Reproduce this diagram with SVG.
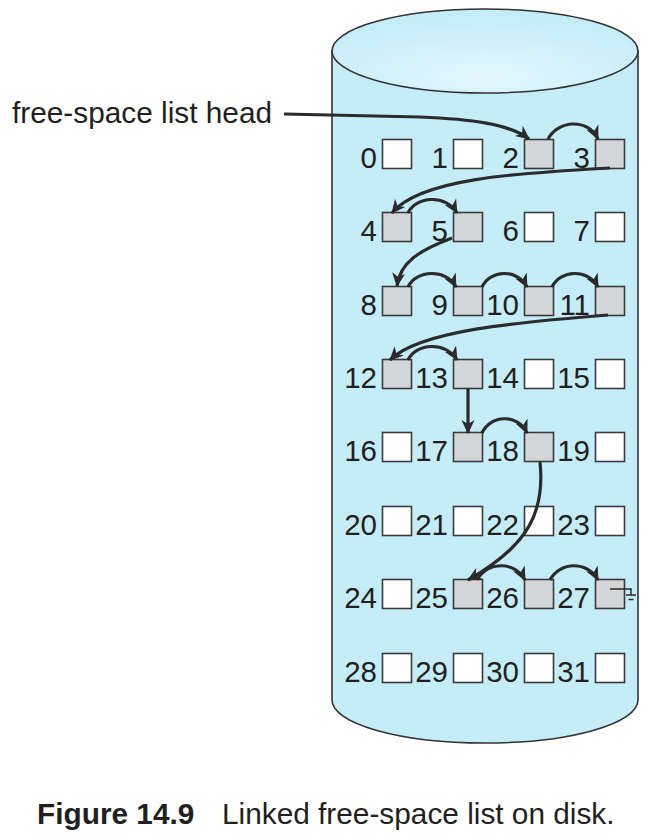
<svg xmlns="http://www.w3.org/2000/svg" width="662" height="838" viewBox="0 0 662 838">
<style>
.lbl{font-family:"Liberation Sans",Arial,sans-serif;font-size:29.5px;fill:#231f20;text-anchor:end}
.txt{font-family:"Liberation Sans",Arial,sans-serif;font-size:29.8px;fill:#231f20}
.b{stroke:#3a3a3a;stroke-width:1.6}
.free{fill:#d5d6d8}
.used{fill:#ffffff}
.arr{fill:none;stroke:#2b2b2b;stroke-width:3.2;marker-end:url(#ah)}
.ln{fill:none;stroke:#2b2b2b;stroke-width:1.5}
</style>
<defs>
<marker id="ah" viewBox="-14 -8 16 16" refX="0" refY="0" markerWidth="16" markerHeight="16" markerUnits="userSpaceOnUse" orient="auto">
<path d="M1,0 L-13,-6.5 L-9,0 L-13,6.5 Z" fill="#2b2b2b"/>
</marker>
<radialGradient id="topg" cx="0.5" cy="0.8" r="0.7">
<stop offset="0" stop-color="#e2f6fc"/>
<stop offset="1" stop-color="#c4ecf9"/>
</radialGradient>
</defs>
<rect width="662" height="838" fill="#ffffff"/>
<g id="disk">
<path d="M332 51 V700 A153 43 0 0 0 638 700 V51 Z" fill="#c5edf9" stroke="#333" stroke-width="1.6"/>
<ellipse cx="485" cy="51" rx="153" ry="42" fill="url(#topg)" stroke="#333" stroke-width="1.6"/>
</g>
<g id="blocks">
<g id="b0"><rect class="b used" x="382.5" y="139.5" width="29" height="29"/><text class="lbl" x="377" y="168">0</text></g>
<g id="b1"><rect class="b used" x="453.5" y="139.5" width="29" height="29"/><text class="lbl" x="448" y="168">1</text></g>
<g id="b2"><rect class="b free" x="524.5" y="139.5" width="29" height="29"/><text class="lbl" x="519" y="168">2</text></g>
<g id="b3"><rect class="b free" x="595.5" y="139.5" width="29" height="29"/><text class="lbl" x="590" y="168">3</text></g>
<g id="b4"><rect class="b free" x="382.5" y="212.5" width="29" height="29"/><text class="lbl" x="377" y="241">4</text></g>
<g id="b5"><rect class="b free" x="453.5" y="212.5" width="29" height="29"/><text class="lbl" x="448" y="241">5</text></g>
<g id="b6"><rect class="b used" x="524.5" y="212.5" width="29" height="29"/><text class="lbl" x="519" y="241">6</text></g>
<g id="b7"><rect class="b used" x="595.5" y="212.5" width="29" height="29"/><text class="lbl" x="590" y="241">7</text></g>
<g id="b8"><rect class="b free" x="382.5" y="286.5" width="29" height="29"/><text class="lbl" x="377" y="315">8</text></g>
<g id="b9"><rect class="b free" x="453.5" y="286.5" width="29" height="29"/><text class="lbl" x="448" y="315">9</text></g>
<g id="b10"><rect class="b free" x="524.5" y="286.5" width="29" height="29"/><text class="lbl" x="519" y="315">10</text></g>
<g id="b11"><rect class="b free" x="595.5" y="286.5" width="29" height="29"/><text class="lbl" x="590" y="315">11</text></g>
<g id="b12"><rect class="b free" x="382.5" y="359.5" width="29" height="29"/><text class="lbl" x="377" y="388">12</text></g>
<g id="b13"><rect class="b free" x="453.5" y="359.5" width="29" height="29"/><text class="lbl" x="448" y="388">13</text></g>
<g id="b14"><rect class="b used" x="524.5" y="359.5" width="29" height="29"/><text class="lbl" x="519" y="388">14</text></g>
<g id="b15"><rect class="b used" x="595.5" y="359.5" width="29" height="29"/><text class="lbl" x="590" y="388">15</text></g>
<g id="b16"><rect class="b used" x="382.5" y="432.5" width="29" height="29"/><text class="lbl" x="377" y="461">16</text></g>
<g id="b17"><rect class="b free" x="453.5" y="432.5" width="29" height="29"/><text class="lbl" x="448" y="461">17</text></g>
<g id="b18"><rect class="b free" x="524.5" y="432.5" width="29" height="29"/><text class="lbl" x="519" y="461">18</text></g>
<g id="b19"><rect class="b used" x="595.5" y="432.5" width="29" height="29"/><text class="lbl" x="590" y="461">19</text></g>
<g id="b20"><rect class="b used" x="382.5" y="506.5" width="29" height="29"/><text class="lbl" x="377" y="535">20</text></g>
<g id="b21"><rect class="b used" x="453.5" y="506.5" width="29" height="29"/><text class="lbl" x="448" y="535">21</text></g>
<g id="b22"><rect class="b used" x="524.5" y="506.5" width="29" height="29"/><text class="lbl" x="519" y="535">22</text></g>
<g id="b23"><rect class="b used" x="595.5" y="506.5" width="29" height="29"/><text class="lbl" x="590" y="535">23</text></g>
<g id="b24"><rect class="b used" x="382.5" y="579.5" width="29" height="29"/><text class="lbl" x="377" y="608">24</text></g>
<g id="b25"><rect class="b free" x="453.5" y="579.5" width="29" height="29"/><text class="lbl" x="448" y="608">25</text></g>
<g id="b26"><rect class="b free" x="524.5" y="579.5" width="29" height="29"/><text class="lbl" x="519" y="608">26</text></g>
<g id="b27"><rect class="b free" x="595.5" y="579.5" width="29" height="29"/><text class="lbl" x="590" y="608">27</text>
<path class="ln" d="M610 589 H631 V595 M626 595 H636 M628.5 599.5 H633.5"/></g>
<g id="b28"><rect class="b used" x="382.5" y="653.5" width="29" height="29"/><text class="lbl" x="377" y="682">28</text></g>
<g id="b29"><rect class="b used" x="453.5" y="653.5" width="29" height="29"/><text class="lbl" x="448" y="682">29</text></g>
<g id="b30"><rect class="b used" x="524.5" y="653.5" width="29" height="29"/><text class="lbl" x="519" y="682">30</text></g>
<g id="b31"><rect class="b used" x="595.5" y="653.5" width="29" height="29"/><text class="lbl" x="590" y="682">31</text></g>
</g>
<g id="head"><text class="txt" x="12" y="123">free-space list head</text></g>
<g id="connectors">
<path class="arr" d="M284 114 L420 117 C470 119 510 124 529 139"/>
<path class="arr" d="M548 139 C558 120 588 118 598 139"/>
<path class="arr" d="M610 168 C520 173 420 178 392 213"/>
<path class="arr" d="M408 213 C416 196 446 194 457 213"/>
<path class="arr" d="M452 238 C420 250 400 262 397 286"/>
<path class="arr" d="M408 287 C416 270 446 268 456 287"/>
<path class="arr" d="M482 287 C490 270 517 268 527 287"/>
<path class="arr" d="M552 287 C560 270 588 268 598 287"/>
<path class="arr" d="M608 315 C520 322 420 330 390 360"/>
<path class="arr" d="M408 360 C416 343 446 341 457 360"/>
<path class="arr" d="M468 388 L468 433"/>
<path class="arr" d="M482 433 C490 415 518 413 527 433"/>
<path class="arr" d="M540 462 C545 510 530 545 468 580"/>
<path class="arr" d="M477 580 C488 561 515 561 525 580"/>
<path class="arr" d="M550 580 C560 561 588 561 598 580"/>
</g>
<g id="caption">
<text class="txt" x="37" y="824" font-weight="bold">Figure 14.9</text>
<text class="txt" x="222" y="824">Linked free-space list on disk.</text>
</g>
</svg>
